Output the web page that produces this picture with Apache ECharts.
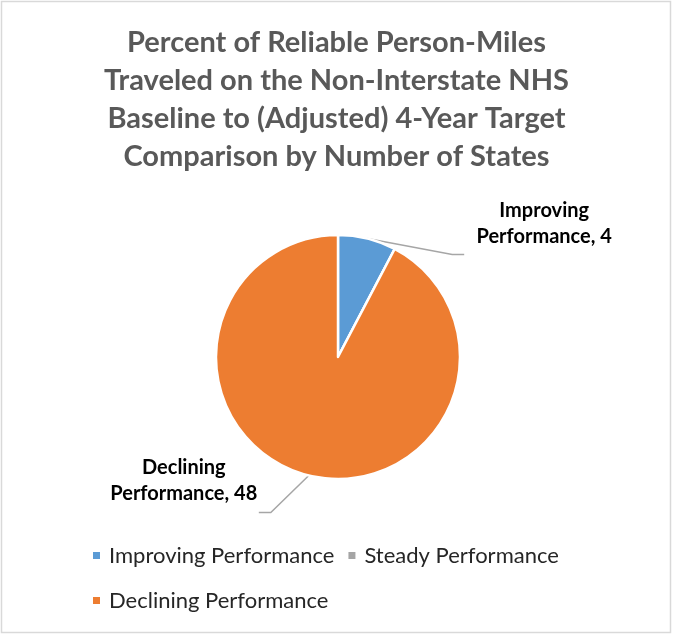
<!DOCTYPE html>
<html>
<head>
<meta charset="utf-8">
<script src="https://cdn.jsdelivr.net/npm/echarts@6/dist/echarts.min.js"></script>
<style>
  html, body { margin: 0; padding: 0; background: #fff; }
  #chart { width: 673px; height: 635px; }
</style>
</head>
<body>
<div id="chart"></div>
<script>
// Number of states in each performance group
const categories = ['Improving Performance', 'Steady Performance', 'Declining Performance'];
const stateCounts = [4, 0, 48];
const sliceColors = ['#5b9bd5', '#a5a5a5', '#ed7d31'];
const titleText = 'Percent of Reliable Person-Miles\nTraveled on the Non-Interstate NHS\nBaseline to (Adjusted) 4-Year Target\nComparison by Number of States';

const FONT = 'Lato, "Open Sans", sans-serif';

const chart = echarts.init(document.getElementById('chart'), null, { renderer: 'canvas' });

const pieData = categories.map((name, i) => {
  const item = { name: name, value: stateCounts[i], itemStyle: { color: sliceColors[i] } };
  if (stateCounts[i] === 0) {
    item.label = { show: false };
    item.labelLine = { show: false };
  }
  return item;
});

chart.setOption({
  backgroundColor: '#ffffff',
  animation: false,
  title: {
    text: titleText,
    left: 'center',
    top: 24,
    padding: 0,
    textStyle: {
      fontFamily: FONT,
      fontSize: 29,
      fontWeight: 'bold',
      color: '#595959',
      lineHeight: 38
    }
  },
  legend: {
    data: categories,
    left: 91,
    top: 539,
    padding: 0,
    width: 520,
    orient: 'horizontal',
    icon: 'rect',
    itemWidth: 9,
    itemHeight: 9,
    itemGap: 12,
    textStyle: {
      fontFamily: FONT,
      fontSize: 22,
      color: '#262626',
      lineHeight: 33,
      padding: [0, 0, 0, 3]
    }
  },
  graphic: [{
    type: 'rect',
    shape: { x: 1.5, y: 1.5, width: 669, height: 631 },
    style: { fill: 'none', stroke: '#d9d9d9', lineWidth: 1.5 },
    silent: true
  }],
  series: [{
    type: 'pie',
    center: [338, 357],
    radius: [0, 122],
    startAngle: 90,
    clockwise: true,
    avoidLabelOverlap: false,
    itemStyle: { borderColor: '#ffffff', borderWidth: 2.5 },
    label: {
      show: true,
      position: 'outside',
      fontFamily: FONT,
      fontSize: 20,
      fontWeight: 'bold',
      color: '#000000',
      lineHeight: 26,
      align: 'center',
      formatter: p => p.name.replace(' ', '\n') + ', ' + p.value
    },
    labelLine: {
      show: true,
      length: 20,
      length2: 10,
      lineStyle: { color: '#a6a6a6', width: 1.5 }
    },
    labelLayout: function (params) {
      const pts = params.labelLinePoints;
      if (!pts) return {};
      const p0 = pts[0];
      if (params.dataIndex === 0) {
        return {
          x: p0[0] + 177,
          y: p0[1] - 15,
          align: 'center',
          verticalAlign: 'middle',
          labelLinePoints: [p0, [p0[0] + 85, p0[1] + 16], [p0[0] + 97, p0[1] + 16]]
        };
      }
      return {
        x: p0[0] - 125,
        y: p0[1] + 5,
        align: 'center',
        verticalAlign: 'middle',
        labelLinePoints: [p0, [p0[0] - 38, p0[1] + 37], [p0[0] - 50, p0[1] + 37]]
      };
    },
    data: pieData
  }]
});
</script>
</body>
</html>
